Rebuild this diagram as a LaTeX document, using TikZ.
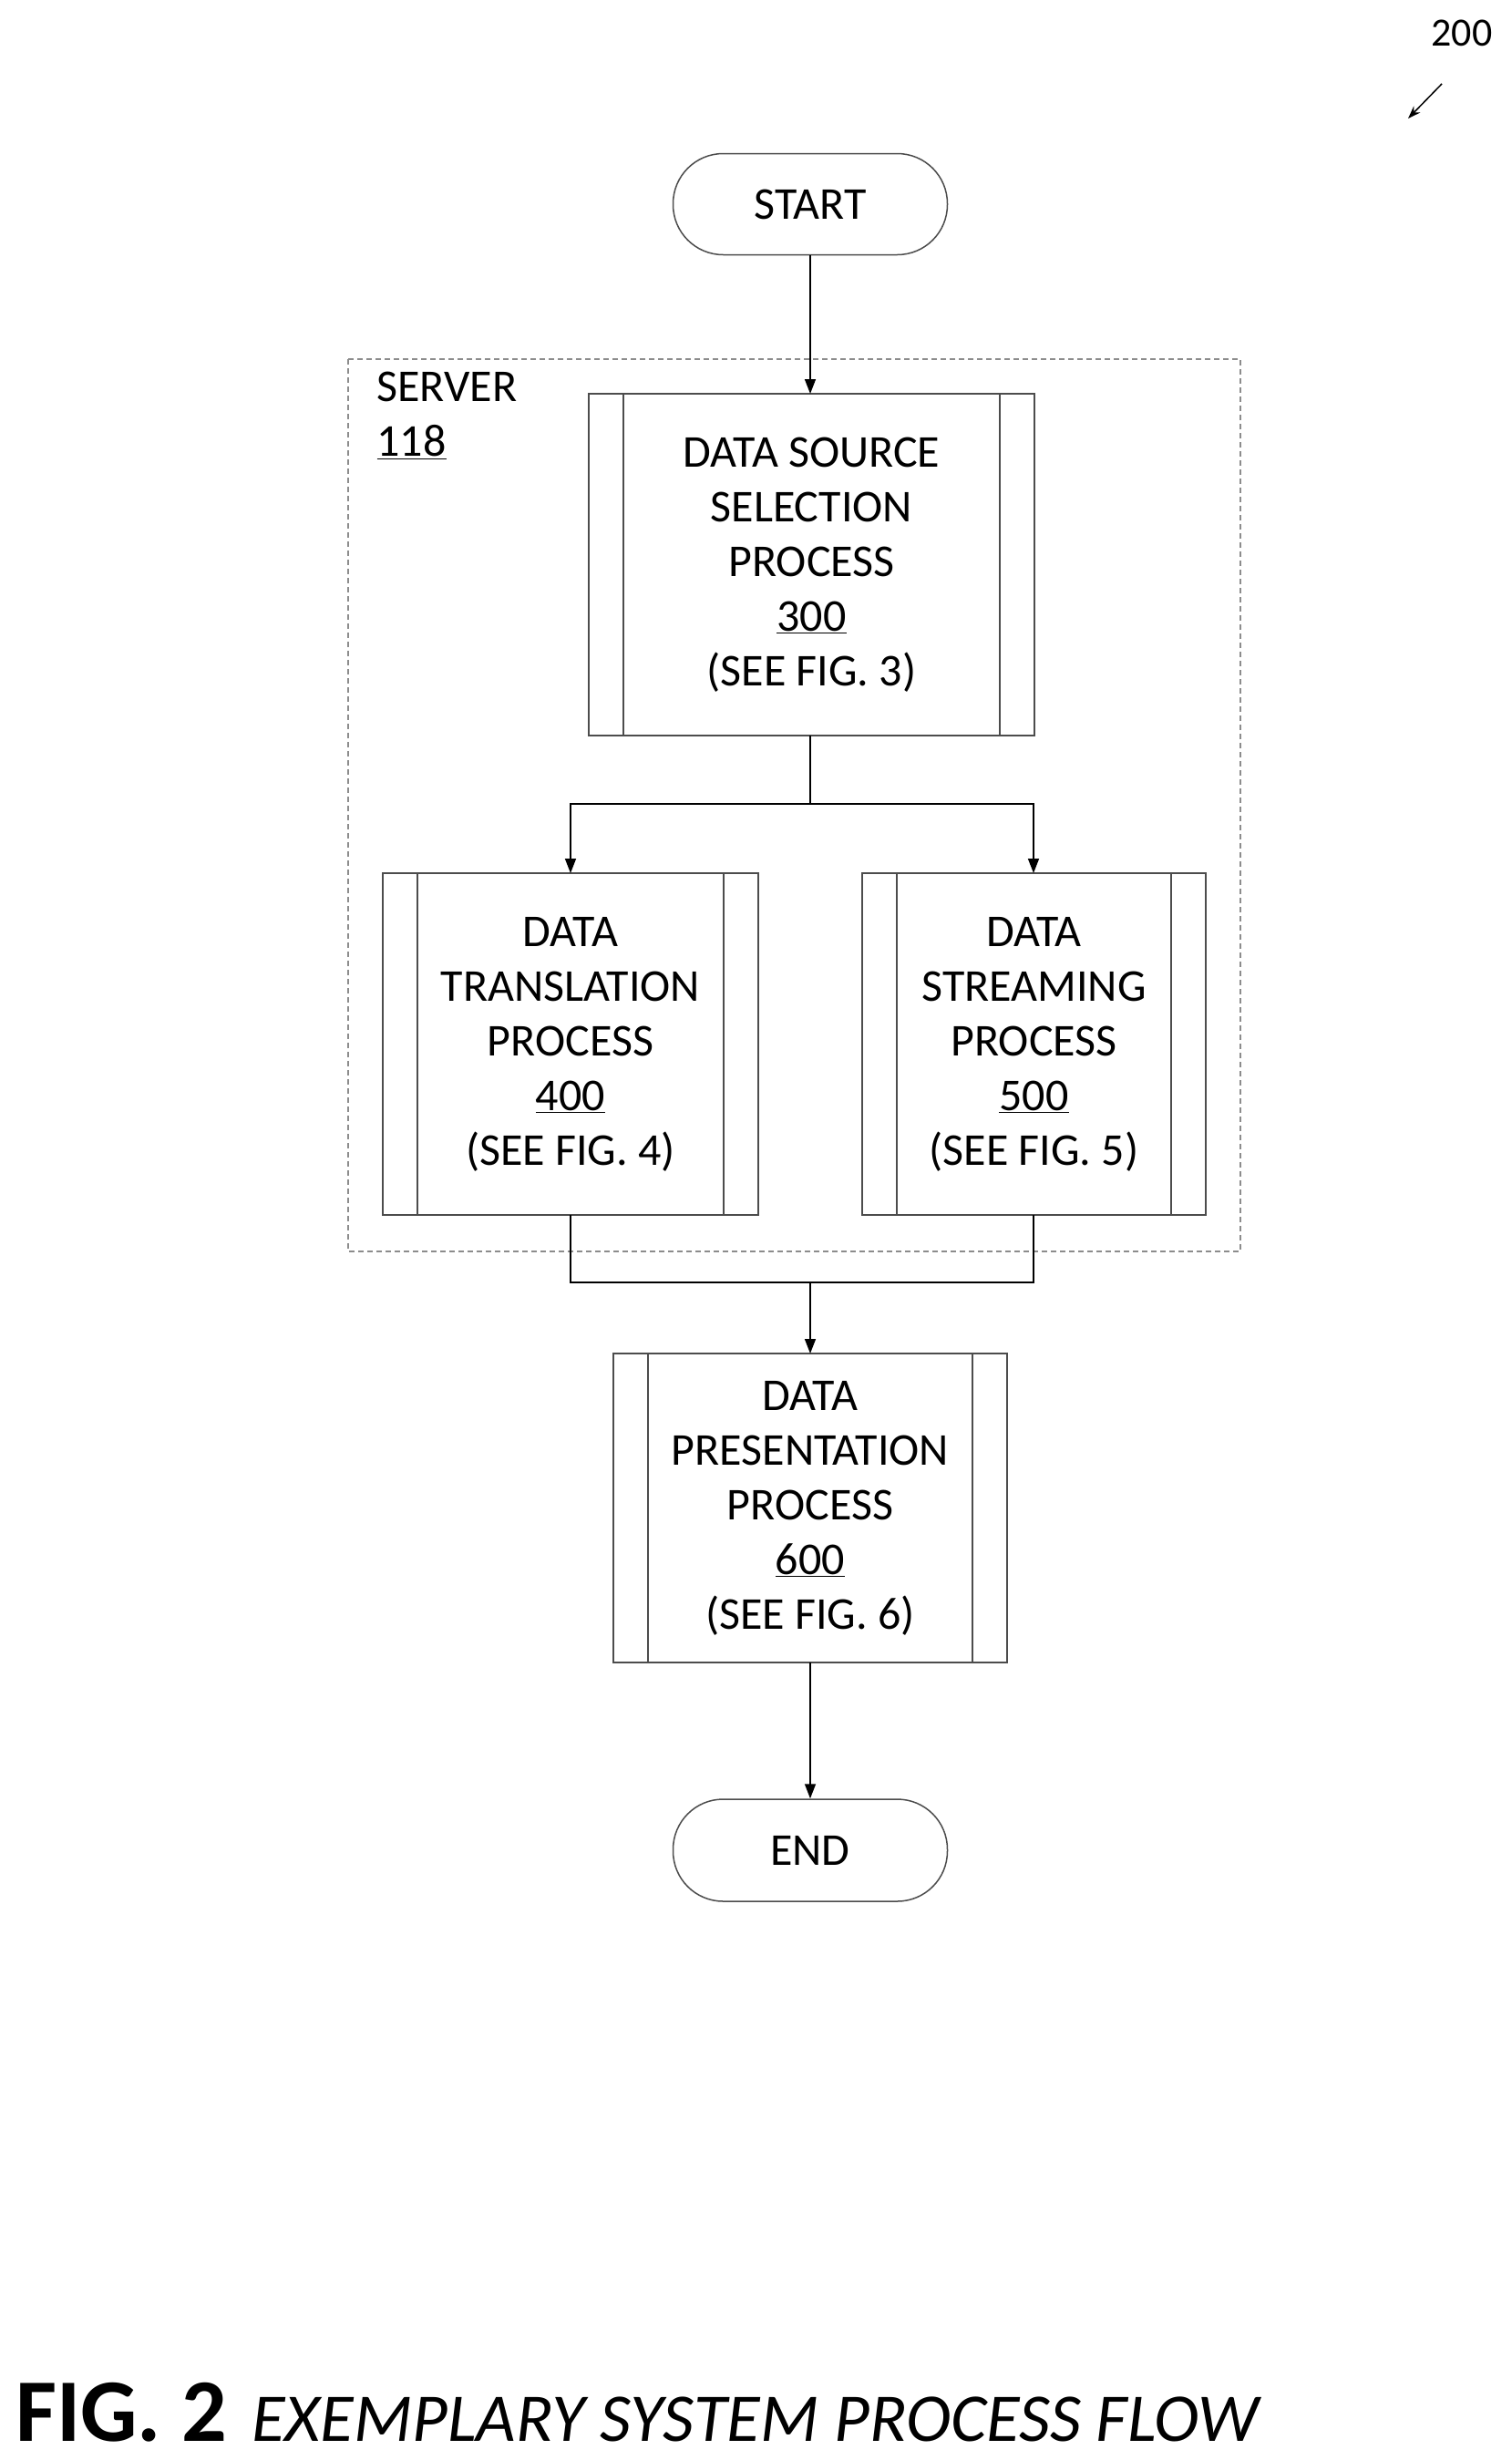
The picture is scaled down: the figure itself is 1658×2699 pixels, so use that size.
\documentclass[tikz,border=0pt]{standalone}
\usepackage{fontspec}
\setmainfont{Carlito}
\usetikzlibrary{arrows.meta}
\begin{document}
\begin{tikzpicture}[x=1pt,y=-1pt,
  txt/.style={font=\fontsize{50}{60}\selectfont,align=center},
  term/.style={draw=black!70,line width=1.5pt,rounded corners=55pt,txt},
  proc/.style={draw=black!70,line width=1.5pt},
  arr/.style={line width=1.5pt,-{Triangle[length=16pt,width=12pt]}},
  ln/.style={line width=1.5pt}]
\useasboundingbox (0,0) rectangle (1658,2699);
% server box
\draw[black!45,dashed,line width=1.2pt,dash pattern=on 6pt off 4pt] (382,394) rectangle (1361,1373);
\node[txt,anchor=north west,align=left] (srv) at (410,405) {SERVER\\\underline{118}};
% start / end
\node[term,minimum width=301pt,minimum height=111pt] (start) at (889,224) {START};
\node[term,minimum width=301pt,minimum height=112pt] (end) at (889,2030) {END};
% processes
\newcommand{\myproc}[6]{%
  \draw[proc] (#1,#2) rectangle (#3,#4);
  \draw[proc] (#1+38,#2) -- (#1+38,#4);
  \draw[proc] (#3-38,#2) -- (#3-38,#4);
  \node[txt] (#5) at ({(#1+#3)/2},{(#2+#4)/2}) {#6};}
\myproc{646}{432}{1135}{807}{ds}{DATA SOURCE\\SELECTION\\PROCESS\\\underline{300}\\(SEE FIG. 3)}
\myproc{420}{958}{832}{1333}{tr}{DATA\\TRANSLATION\\PROCESS\\\underline{400}\\(SEE FIG. 4)}
\myproc{946}{958}{1323}{1333}{st}{DATA\\STREAMING\\PROCESS\\\underline{500}\\(SEE FIG. 5)}
\myproc{673}{1485}{1105}{1824}{pr}{DATA\\PRESENTATION\\PROCESS\\\underline{600}\\(SEE FIG. 6)}
\coordinate (dsb) at (889,807);
\coordinate (sp) at (889,882);
\coordinate (trt) at (626,958);
\coordinate (stt) at (1134,958);
\coordinate (trb) at (626,1333);
\coordinate (stb) at (1134,1333);
\coordinate (mg) at (889,1407);
\coordinate (prt) at (889,1485);
\coordinate (prb) at (889,1824);
\coordinate (dst) at (889,432);
\draw[arr] (start.south) -- (dst);
\draw[ln] (dsb) -- (sp);
\draw[arr] (sp) -| (trt);
\draw[arr] (sp) -| (stt);
\draw[ln] (trb) |- (mg);
\draw[ln] (stb) |- (mg);
\draw[arr] (mg) -- (prt);
\draw[arr] (prb) -- (end.north);
% ref 200
\node[font=\fontsize{44}{50}\selectfont] (ref) at (1604,36) {200};
\coordinate (refa) at (1582,92);
\coordinate (refb) at (1545,130);
\draw[line width=1.5pt,-{Stealth[length=14pt,width=10pt]}] (refa) -- (refb);
% caption
\node[anchor=base west,inner sep=0pt,font=\fontsize{98}{100}\selectfont\bfseries] (fig) at (17,2678) {FIG. 2};
\node[anchor=base west,inner sep=0pt,font=\fontsize{75}{80}\selectfont\itshape] (cap) at (276,2678) {EXEMPLARY SYSTEM PROCESS FLOW};
\end{tikzpicture}
\end{document}
